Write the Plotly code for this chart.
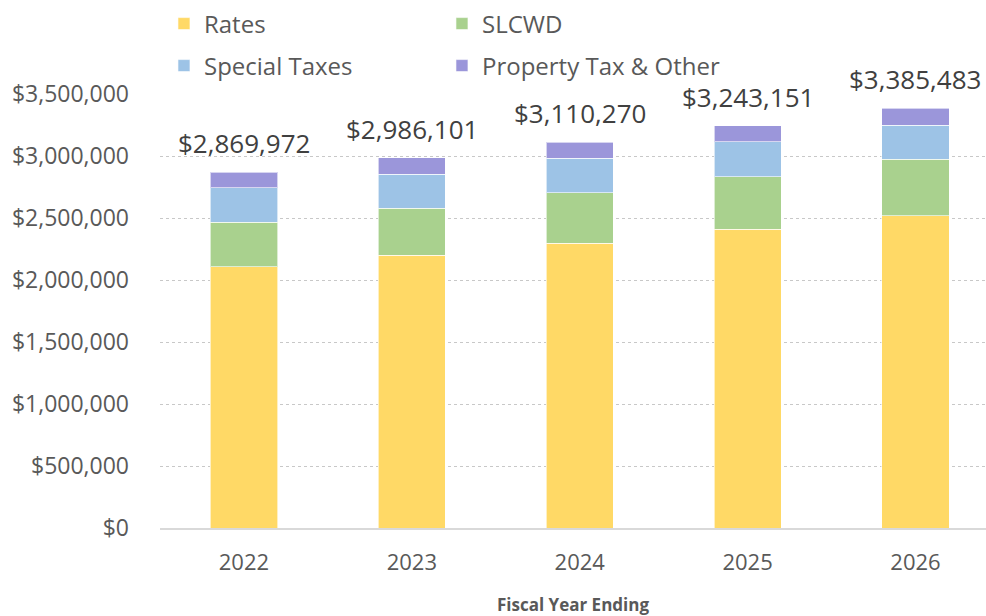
import plotly.graph_objects as go

years = ["2022", "2023", "2024", "2025", "2026"]
rates = [2105000, 2200000, 2298000, 2408000, 2520000]
slcwd = [360000, 380000, 405000, 425000, 452000]
special_taxes = [277000, 274000, 278000, 280000, 278000]
property_other = [127972, 132101, 129270, 130151, 135483]
totals = [2869972, 2986101, 3110270, 3243151, 3385483]
total_labels = ["$2,869,972", "$2,986,101", "$3,110,270", "$3,243,151", "$3,385,483"]
y_ticks = [0, 500000, 1000000, 1500000, 2000000, 2500000, 3000000, 3500000]
y_tick_labels = ["$0", "$500,000", "$1,000,000", "$1,500,000", "$2,000,000",
                 "$2,500,000", "$3,000,000", "$3,500,000"]

FONT = "Open Sans"
series = [
    ("Rates", rates, "#FFD966", "legend"),
    ("SLCWD", slcwd, "#A9D18E", "legend"),
    ("Special Taxes", special_taxes, "#9DC3E6", "legend2"),
    ("Property Tax & Other", property_other, "#9B96DA", "legend2"),
]

fig = go.Figure()
for name, vals, color, leg in series:
    fig.add_trace(go.Bar(
        x=years, y=vals, name=name, legend=leg,
        marker=dict(color=color, line=dict(color="rgba(255,255,255,0.6)", width=1)),
        width=0.40,
    ))

for i, (y, t) in enumerate(zip(totals, total_labels)):
    fig.add_annotation(x=i, y=y, xref="x", yref="y", text=t, showarrow=False,
                       yanchor="bottom", yshift=9,
                       font=dict(family=FONT, size=26, color="#404040"))

legend_common = dict(orientation="h", xref="container", yref="container",
                     xanchor="left", yanchor="middle", entrywidth=233,
                     entrywidthmode="pixels", font=dict(family=FONT, size=24, color="#595959"),
                     bgcolor="rgba(0,0,0,0)", traceorder="normal")

fig.update_layout(
    width=986, height=616,
    margin=dict(l=160, r=0, t=94, b=88, autoexpand=False),
    barmode="stack",
    plot_bgcolor="white", paper_bgcolor="white",
    font=dict(family=FONT, color="#595959"),
    legend=dict(x=0.1663, y=1 - 24 / 616, **legend_common),
    legend2=dict(x=0.1663, y=1 - 66 / 616, **legend_common),
    xaxis=dict(
        type="category", automargin=False,
        range=[-0.5, 4.42], showline=True, linecolor="#D9D9D9", linewidth=1.5,
        tickfont=dict(family=FONT, size=22, color="#595959"),
        ticks="outside", ticklen=14, tickcolor="rgba(0,0,0,0)", showgrid=False,
        title=dict(text="<b>Fiscal Year Ending</b>", font=dict(family=FONT, size=17, color="#595959"),
                   standoff=24),
    ),
    yaxis=dict(
        automargin=False,
        range=[0, 3500000], tickvals=y_ticks, ticktext=y_tick_labels,
        tickfont=dict(family=FONT, size=23, color="#595959"),
        showgrid=True, gridcolor="#C8C8C8", griddash="dot", gridwidth=1,
        zeroline=False, ticks="", ticklabelstandoff=30,
    ),
)

fig.write_html("out.html", config={"displayModeBar": False},
               post_script="document.body.style.margin='0';")
